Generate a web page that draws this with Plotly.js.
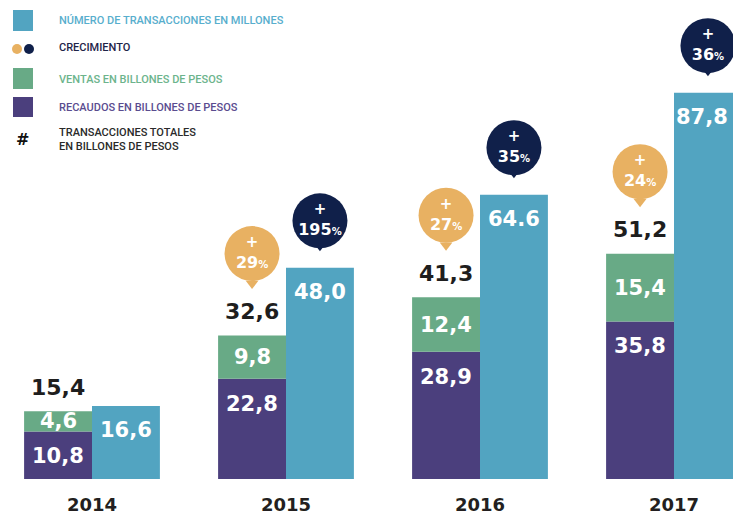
<!DOCTYPE html>
<html>
<head>
<meta charset="utf-8">
<script src="https://cdn.plot.ly/plotly-3.0.1.min.js"></script>
<style>html,body{margin:0;padding:0;background:#fff;}#chart{width:733px;height:515px;}</style>
</head>
<body>
<div id="chart"></div>
<script>
// ---- data ----
const years = ['2014', '2015', '2016', '2017'];
const recaudos = [10.8, 22.8, 28.9, 35.8];          // Recaudos en billones de pesos
const ventas = [4.6, 9.8, 12.4, 15.4];              // Ventas en billones de pesos
const transacciones = [16.6, 48.0, 64.6, 87.8];     // Número de transacciones en millones
const recaudosLabels = ['10,8', '22,8', '28,9', '35,8'];
const ventasLabels = ['4,6', '9,8', '12,4', '15,4'];
const transaccionesLabels = ['16,6', '48,0', '64.6', '87,8'];
const totalLabels = ['15,4', '32,6', '41,3', '51,2'];
const crecimientoTotales = [null, '29', '27', '24'];
const crecimientoTransacciones = [null, '195', '35', '36'];

// ---- styles ----
const C_BLUE = '#52A4C1', C_GREEN = '#68AA86', C_PURPLE = '#4B3F7D';
const C_ORANGE = '#E8B162', C_NAVY = '#10204A', C_DARK = '#1E1E1E';
const HEAVY = '"DejaVu Sans", sans-serif';
const W = 0.35;            // bar width in category units
const PX = 4.4;            // pixels per data unit (y), for pixel offsets
const XPX = 194;           // pixels per category unit (x)
const X0 = 92 / XPX;       // left part of range
const PW = 733, PH = 479;  // plot area size in px
const xs = years.map((_, i) => i);
const totals = recaudos.map((v, i) => v + ventas[i]);

const traces = [];
traces.push({type: 'bar', x: xs, y: recaudos, width: W, offset: -W,
  marker: {color: C_PURPLE, line: {width: 0}}, hoverinfo: 'skip'});
traces.push({type: 'bar', x: xs, y: ventas, base: recaudos, width: W, offset: -W,
  marker: {color: C_GREEN, line: {width: 0}}, hoverinfo: 'skip'});
traces.push({type: 'bar', x: xs, y: transacciones, width: W, offset: 0,
  marker: {color: C_BLUE, line: {width: 0}}, hoverinfo: 'skip'});

function bubble(xArr, yArr, growth, color, centerPx, tipPx) {
  const bx = [], by = [], ty = [], txt = [];
  growth.forEach((g, i) => {
    if (g === null) return;
    bx.push(xArr[i]); by.push(yArr[i] + centerPx / PX); ty.push(yArr[i] + tipPx / PX);
    txt.push('<span style="font-size:15px">+</span><br>' + g + '<span style="font-size:10px">%</span>');
  });
  traces.push({type: 'scatter', mode: 'markers', x: bx, y: ty, hoverinfo: 'skip',
    marker: {symbol: 'triangle-down', size: 11, color: color}});
  traces.push({type: 'scatter', mode: 'markers+text', x: bx, y: by, text: txt,
    textposition: 'middle center', hoverinfo: 'skip',
    textfont: {family: HEAVY, size: 16, color: '#ffffff', weight: 'bold'},
    marker: {symbol: 'circle', size: 55, color: color}});
}
bubble(xs.map(i => i - W / 2), totals, crecimientoTotales, C_ORANGE, 82, 52);
bubble(xs.map(i => i + W / 2), transacciones, crecimientoTransacciones, C_NAVY, 47, 22);

const annotations = [];
const LABSIZE = 21;
const labFont = {family: HEAVY, size: LABSIZE, color: '#ffffff', weight: 'bold'};
// keep a label inside the picture if its bar runs past the right edge
const fitShift = (xc, txt) => {
  const half = txt.length * 0.66 * LABSIZE / 2;
  const right = (xc + X0) * XPX + half;
  return right > PW - 3 ? (PW - 3) - right : 0;
};
years.forEach((_, i) => {
  annotations.push({x: i - W / 2, y: recaudos[i], yshift: -25, text: recaudosLabels[i],
    showarrow: false, yanchor: 'middle', font: labFont});
  annotations.push({x: i - W / 2, y: recaudos[i] + ventas[i] / 2, text: ventasLabels[i],
    showarrow: false, yanchor: 'middle', font: labFont});
  annotations.push({x: i + W / 2, y: transacciones[i], yshift: -24, text: transaccionesLabels[i],
    xshift: fitShift(i + W / 2, transaccionesLabels[i]),
    showarrow: false, yanchor: 'middle', font: labFont});
  annotations.push({x: i - W / 2, y: totals[i], yshift: 24, text: totalLabels[i],
    showarrow: false, yanchor: 'middle', font: {family: HEAVY, size: 22, color: C_DARK, weight: 'bold'}});
});

// ---- custom legend (paper coords) ----
const px = v => v / PW, py = v => 1 - v / PH;
const shapes = [
  {type: 'rect', xref: 'paper', yref: 'paper', x0: px(13), x1: px(33), y0: py(31), y1: py(10), fillcolor: C_BLUE, line: {width: 0}},
  {type: 'circle', xref: 'paper', yref: 'paper', x0: px(12), x1: px(22), y0: py(54), y1: py(44), fillcolor: C_ORANGE, line: {width: 0}},
  {type: 'circle', xref: 'paper', yref: 'paper', x0: px(24), x1: px(34), y0: py(54), y1: py(44), fillcolor: C_NAVY, line: {width: 0}},
  {type: 'rect', xref: 'paper', yref: 'paper', x0: px(13), x1: px(33), y0: py(89), y1: py(68), fillcolor: C_GREEN, line: {width: 0}},
  {type: 'rect', xref: 'paper', yref: 'paper', x0: px(13), x1: px(33), y0: py(117), y1: py(97), fillcolor: C_PURPLE, line: {width: 0}}
];
const legFont = (c) => ({family: 'Roboto, "Noto Sans", sans-serif', size: 11, color: c, weight: 500});
const leg = [
  ['NÚMERO DE TRANSACCIONES EN MILLONES', 20, '#58AECD'],
  ['CRECIMIENTO', 48, '#1E2448'],
  ['VENTAS EN BILLONES DE PESOS', 79, '#6CB48C'],
  ['RECAUDOS EN BILLONES DE PESOS', 107, '#5A4C8F'],
  ['TRANSACCIONES TOTALES<br>EN BILLONES DE PESOS', 139, '#2A2A2A']
];
leg.forEach(([t, y, c]) => annotations.push({xref: 'paper', yref: 'paper', x: px(57), y: py(y),
  xanchor: 'left', yanchor: 'middle', align: 'left', showarrow: false, text: t, font: legFont(c)}));
annotations.push({xref: 'paper', yref: 'paper', x: px(22), y: py(139), xanchor: 'center', yanchor: 'middle',
  showarrow: false, text: '#', font: {family: HEAVY, size: 16, color: '#111', weight: 'bold'}});

const layout = {
  width: 733, height: 515,
  margin: {l: 0, r: 0, t: 0, b: 36, pad: 0},
  paper_bgcolor: '#ffffff', plot_bgcolor: '#ffffff',
  barmode: 'overlay', showlegend: false,
  xaxis: {range: [-X0, (PW - 92) / XPX], tickvals: xs, ticktext: years, ticks: '',
    showgrid: false, zeroline: false, showline: false, fixedrange: true,
    ticklabelstandoff: 13,
    tickfont: {family: HEAVY, size: 18, color: '#231F20', weight: 'bold'}},
  yaxis: {range: [0, PH / PX], visible: false, showgrid: false, zeroline: false, fixedrange: true},
  shapes: shapes, annotations: annotations
};
Plotly.newPlot('chart', traces, layout, {displayModeBar: false, staticPlot: true});
</script>
</body>
</html>
